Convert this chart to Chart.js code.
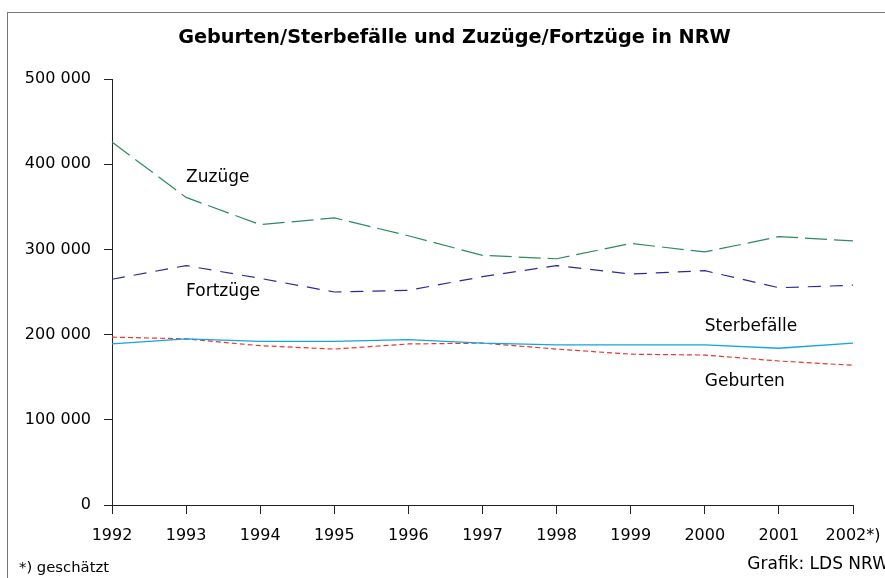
<!DOCTYPE html>
<html><head><meta charset="utf-8">
<script src="https://cdn.jsdelivr.net/npm/chart.js@4/dist/chart.umd.min.js"></script>
<style>html,body{margin:0;padding:0;background:#fff}#wrap{width:885px;height:578px}</style>
</head><body><div id="wrap"><canvas id="c" width="885" height="578"></canvas></div>
<script>
const years = ['1992','1993','1994','1995','1996','1997','1998','1999','2000','2001','2002*)'];
const zuzuege = [426000,361000,329000,337000,316000,293000,289000,307000,297000,315000,310000];
const fortzuege = [265000,281000,266000,250000,252000,268000,281000,271000,275000,255000,258000];
const sterbefaelle = [189000,195000,192000,192000,194000,190000,188000,188000,188000,184000,190000];
const geburten = [197000,195000,187000,183000,189000,190000,183000,177000,176000,169000,164000];
const yTicks = [0,100000,200000,300000,400000,500000];
const seriesLabels = [
  {text:'Zuzüge', xi:1, y:379000},
  {text:'Fortzüge', xi:1, y:245000},
  {text:'Sterbefälle', xi:8, y:204000},
  {text:'Geburten', xi:8, y:140000}
];
const FONT = '"DejaVu Sans", sans-serif';
const deco = {
  id:'deco',
  afterDraw(chart){
    const ctx = chart.ctx;
    ctx.save();
    ctx.strokeStyle = '#777'; ctx.lineWidth = 1;
    ctx.strokeRect(7.5, 12.5, 900, 600);
    ctx.fillStyle = '#000';
    ctx.font = 'bold 19.3px ' + FONT;
    ctx.textAlign = 'center'; ctx.textBaseline = 'alphabetic';
    ctx.fillText('Geburten/Sterbefälle und Zuzüge/Fortzüge in NRW', 454.5, 43);
    ctx.font = '17px ' + FONT;
    ctx.textAlign = 'left';
    const xs = chart.scales.x, ys = chart.scales.y;
    seriesLabels.forEach(l => {
      ctx.fillText(l.text, xs.getPixelForValue(l.xi), ys.getPixelForValue(l.y));
    });
    ctx.font = '14.8px ' + FONT;
    ctx.fillText('*) geschätzt', 19, 572);
    ctx.font = '17px ' + FONT;
    ctx.textAlign = 'right';
    ctx.fillText('Grafik: LDS NRW', 889, 569);
    ctx.restore();
  }
};
new Chart(document.getElementById('c'), {
  type:'line',
  data:{
    labels: years,
    datasets:[
      {label:'Zuzüge', data:zuzuege, borderColor:'#2e8b5e', borderWidth:1.2, borderDash:[22,7], pointRadius:0, tension:0, fill:false},
      {label:'Fortzüge', data:fortzuege, borderColor:'#2a2a96', borderWidth:1.2, borderDash:[13,9], pointRadius:0, tension:0, fill:false},
      {label:'Sterbefälle', data:sterbefaelle, borderColor:'#12a6de', borderWidth:1.3, pointRadius:0, tension:0, fill:false},
      {label:'Geburten', data:geburten, borderColor:'#e8392c', borderWidth:1.2, borderDash:[5,3], pointRadius:0, tension:0, fill:false}
    ]
  },
  options:{
    responsive:false, animation:false, devicePixelRatio:1,
    layout:{padding:{left:0, right:32, top:79, bottom:0}},
    plugins:{legend:{display:false}, title:{display:false}, tooltip:{enabled:false}},
    scales:{
      x:{
        offset:false,
        grid:{drawOnChartArea:false, drawTicks:true, tickLength:9, color:'#222'},
        border:{display:true, color:'#222', width:1},
        ticks:{color:'#000', font:{family:FONT, size:16}, padding:12, maxRotation:0, autoSkip:false},
        afterFit(s){ s.height = 73; s.paddingLeft = 0; s.paddingRight = 0; }
      },
      y:{
        min:0, max:500000,
        afterBuildTicks(s){ s.ticks = yTicks.map(v=>({value:v})); },
        grid:{drawOnChartArea:false, drawTicks:true, tickLength:8, color:'#222'},
        border:{display:true, color:'#222', width:1},
        ticks:{color:'#000', font:{family:FONT, size:16}, padding:13,
          callback:v => v === 0 ? '0' : String(v).replace(/\B(?=(\d{3})+(?!\d))/g,' ')},
        afterFit(s){ s.width = 112; s.paddingTop = 0; s.paddingBottom = 0; }
      }
    }
  },
  plugins:[deco]
});
</script></body></html>
